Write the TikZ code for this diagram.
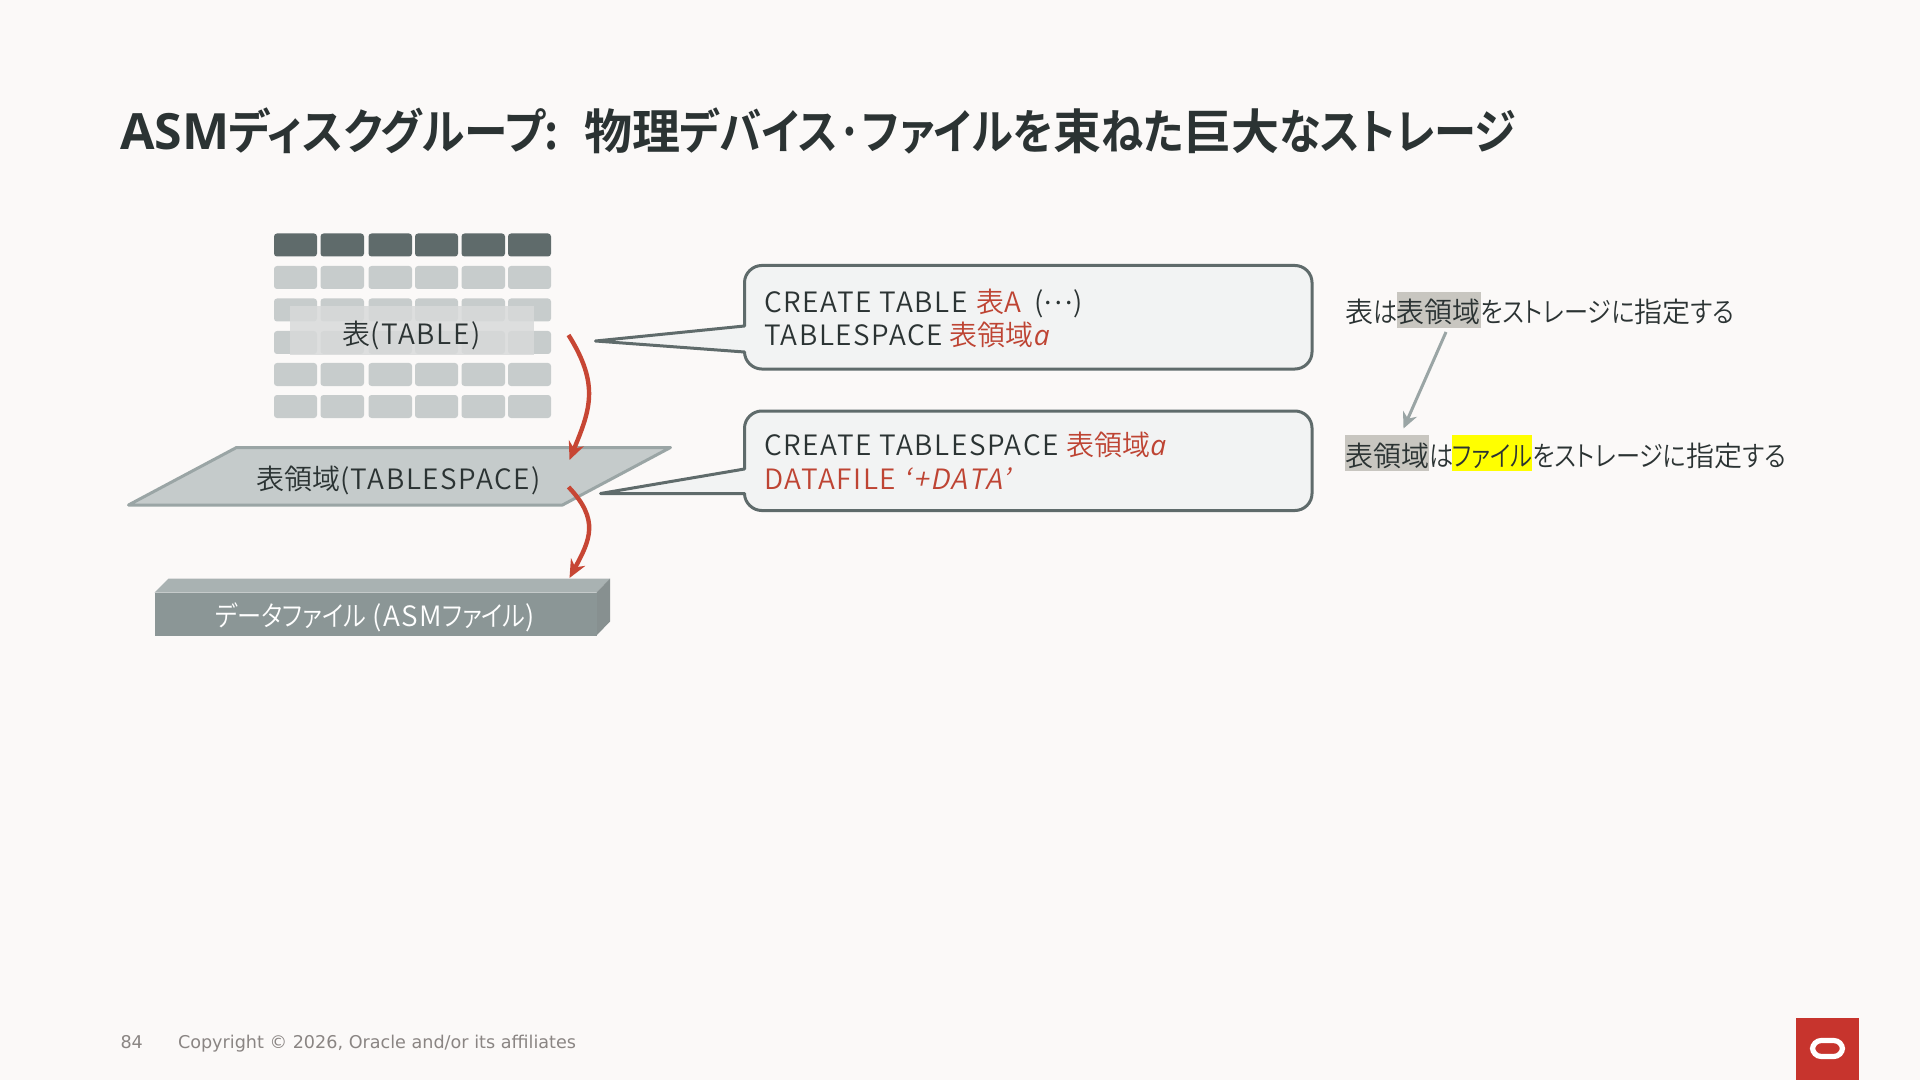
\documentclass[tikz,border=0pt]{standalone}
\usepackage{fontspec}
\usetikzlibrary{arrows.meta}
\setmainfont{Noto Sans CJK JP}[UprightFont=* DemiLight,BoldFont=* Bold,ItalicFont=* DemiLight,ItalicFeatures={FakeSlant=0.2},RawFeature=+palt]
\newfontfamily\kanaf{Noto Sans CJK JP DemiLight}[RawFeature=+palt,FakeStretch=0.862]
\newfontfamily\kanaff{Noto Sans CJK JP DemiLight}[RawFeature=+palt,FakeStretch=0.83]
\newfontfamily\latf{Noto Sans CJK JP DemiLight}[RawFeature=+palt,LetterSpace=5.6]
\newfontfamily\latit{Noto Sans CJK JP DemiLight}[RawFeature=+palt,LetterSpace=6.5,FakeSlant=0.2]
\newfontfamily\ait{Open Sans}[UprightFont=* Italic]
\newfontfamily\titlek{Noto Sans CJK JP Bold}[RawFeature=+palt,FakeStretch=0.91]
\newfontfamily\titlekk{Noto Sans CJK JP Bold}[RawFeature=+palt,FakeStretch=0.878]
\newfontfamily\titlej{Noto Sans CJK JP Bold}[RawFeature=+palt]
\newfontfamily\titlel{Open Sans}[UprightFont=* Bold]
\newfontfamily\footfont{DejaVu Sans}
\definecolor{bgc}{HTML}{FBF9F8}
\definecolor{ink}{HTML}{2B3333}
\definecolor{redtx}{HTML}{BE4433}
\definecolor{redar}{HTML}{C74634}
\definecolor{hdr}{HTML}{5F6B6B}
\definecolor{cellc}{HTML}{C7CCCC}
\definecolor{hlgrey}{HTML}{C8C6C0}
\definecolor{hlyel}{HTML}{FFFF00}
\definecolor{paraf}{HTML}{C5CBCB}
\definecolor{parad}{HTML}{9AA5A5}
\definecolor{call}{HTML}{F2F3F3}
\definecolor{labelf}{HTML}{D8DADA}
\definecolor{logo}{HTML}{C7342D}
\definecolor{footc}{HTML}{8A8583}
\newcommand{\hlbox}[2]{{\setlength{\fboxsep}{0pt}\colorbox{#1}{\rule[-2.35pt]{0pt}{18pt}#2}}}
\newcommand{\rt}[1]{\textcolor{redtx}{#1}}
\newcommand{\kn}[1]{{\kanaf #1}}
\newcommand{\lx}[1]{{\latf #1}}
\newcommand{\tk}[1]{{\titlek #1}}
\newcommand{\tkk}[1]{{\titlekk #1}}
\tikzset{
 x=0.5pt,y=-0.5pt,
 every node/.style={inner sep=0pt,outer sep=0pt,anchor=base west,text=ink,font=\fontsize{14}{16}\selectfont},
 hcell/.style={fill=hdr,rounded corners=1.5pt},
 bcell/.style={fill=cellc,rounded corners=1.5pt},
 calloutb/.style={draw=hdr,line width=1.5pt,fill=call,line join=round},
 redarrow/.style={draw=redar,line width=2.2pt,-{Stealth[length=9pt,width=8pt]}},
 footn/.style={text=footc,font=\footfont\fontsize{8.8}{11}\selectfont},
}
\begin{document}
\begin{tikzpicture}
\useasboundingbox (0,0) rectangle (1920,1080);
\fill[bgc] (0,0) rectangle (1920,1080);
\node (title) at (120,149.5) {\fontsize{24}{28}\selectfont{\titlel\fontsize{25}{28}\selectfont ASM}\tk{ディスクグループ:}\hspace{12.5pt}{\titlej 物理}\tkk{デバイス·ファイルを}{\titlej 束}\tkk{ねた}{\titlej 巨大}\tkk{なストレージ}};
% table
\foreach \xa/\xb in {274/317,320.5/364,368.5/412,415/458,461.5/505,508/551}{
 \fill[hcell] (\xa,233.5) rectangle (\xb,256.5);
 \foreach \ya/\yb in {266/289,298.5/321.5,331/354,363/386,395/418}{
  \fill[bcell] (\xa,\ya) rectangle (\xb,\yb);
 }
}
\fill[fill=labelf,opacity=.85] (290,306.5) rectangle (534,355.5);
\node[anchor=base] (tbl) at (411.5,344.5) {表\lx{(TABLE)}};
% tablespace
\draw[fill=paraf,draw=parad,line width=1.5pt,line join=round] (236.5,447.5) -- (670.5,447.5) -- (562.5,505) -- (128.5,505) -- cycle;
\node[anchor=base] (ts) at (398.5,489) {表領域\lx{(TABLESPACE)}};
% datafile
\fill[fill=parad!85!white] (154.5,592.5) -- (168.5,578.5) -- (610,578.5) -- (596.5,592.5) -- cycle;
\fill[fill=hdr!75!white] (596.5,592.5) -- (610,578.5) -- (610,621.5) -- (596.5,635.5) -- cycle;
\fill[fill=parad!75!hdr] (154.5,592.5) rectangle (596.5,635.5);
\node[anchor=base,text=white] (df) at (375,626.5) {\kn{データファイル} \lx{(ASM}\kn{ファイル}\lx{)}};
% red arrows
\coordinate (r1s) at (568.5,335);
\coordinate (r1e) at (569.5,460);
\coordinate (r2s) at (568.5,487);
\coordinate (r2e) at (569.5,578);
\draw[redarrow] (r1s) .. controls (600,385) and (590,410) .. (r1e);
\draw[redarrow] (r2s) .. controls (600,520) and (590,540) .. (r2e);
% callouts
\draw[calloutb] (595.5,341) -- (744.5,326) -- (744.5,282.5) .. controls (744.5,273.2) and (752.8,265.5) .. (761.5,265.5) -- (1295,265.5) .. controls (1304.3,265.5) and (1312,273.2) .. (1312,282.5) -- (1312,352) .. controls (1312,361.3) and (1304.3,369) .. (1295,369) -- (761.5,369) .. controls (752.8,369) and (744.5,361.3) .. (744.5,352) -- cycle;
\draw[calloutb] (600.5,493.5) -- (744.5,469) -- (744.5,428) .. controls (744.5,418.7) and (752.8,411) .. (761.5,411) -- (1295,411) .. controls (1304.3,411) and (1312,418.7) .. (1312,428) -- (1312,493.5) .. controls (1312,502.8) and (1304.3,510.5) .. (1295,510.5) -- (761.5,510.5) .. controls (752.8,510.5) and (744.5,502.8) .. (744.5,493.5) -- cycle;
\node (c1a) at (764,313) {\lx{CREATE TABLE }\rt{\hspace{.5pt}表\lx{A}} \hspace{3.5pt}\lx{(}\raisebox{.3em}{…}\lx{)}};
\node (c1b) at (764,346) {\lx{TABLESPACE }\rt{\hspace{-.5pt}表領域{\ait a}}};
\node (c2a) at (764,455.5) {\lx{CREATE TABLESPACE }\rt{表領域{\ait a}}};
\node (c2b) at (764,489.5) {\rt{\lx{DATAFILE }{\latit ‘+DATA’}}};
% right notes
\node (n1) at (1345,323) {表\kn{は}\kern-.3pt\hlbox{hlgrey}{表領域}\kn{をストレージに}指定\kn{する}};
\node (n2) at (1345,466) {\hlbox{hlgrey}{表領域}\kn{は}\kern-.6pt\hlbox{hlyel}{{\kanaff ファイル}}\kn{をストレージに}指定\kn{する}};
\coordinate (gs) at (1446,332);
\coordinate (ge) at (1403.5,428.5);
\draw[draw=parad,line width=1.5pt,-{Stealth[length=8pt,width=7.5pt]}] (gs) -- (ge);
% footer
\node[footn] (pg) at (120.5,1048) {84};
\node[footn] (cr) at (178,1048) {Copyright © 2026, Oracle and/or its affiliates};
% logo
\fill[logo] (1796,1018) rectangle (1858.5,1080);
\draw[white,line width=2.6pt,rounded corners=4.4pt] (1812.5,1040.5) rectangle (1842.5,1056.5);
\end{tikzpicture}
\end{document}
